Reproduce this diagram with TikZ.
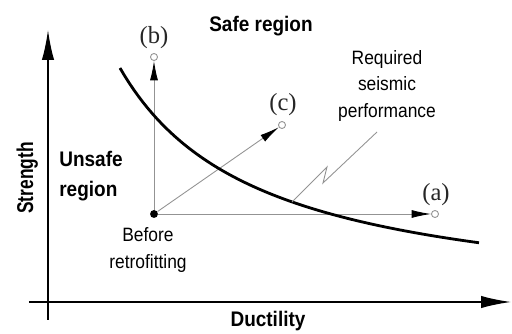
\documentclass[tikz,border=0pt]{standalone}
\usepackage{fontspec}
\setmainfont{Liberation Sans}
\newfontfamily\casefont{Liberation Serif}
\usetikzlibrary{arrows.meta}
\newcommand\condensed[1]{\scalebox{0.9}[1]{#1}}

\begin{document}
\begin{tikzpicture}[x=0.02cm,y=-0.02cm]
    \def\r{2pt}
    \tikzset{axis/.style={black,line width=0.9pt,-{Latex[length=17pt,width=7pt]}},
        move/.style={gray!85,line width=0.5pt,-{Latex[length=11pt,width=4.5pt,color=black]}},
        target/.style={circle,draw=gray!85,fill=white,line width=0.5pt,inner sep=0pt,minimum size=2*\r},
        case/.style={font=\casefont\fontsize{14}{16}\selectfont,inner sep=0pt,text=black!85},
        region/.style={font=\fontsize{12}{17.5}\selectfont\bfseries,inner sep=0pt,align=left},
        note/.style={font=\fontsize{11}{15}\selectfont,inner sep=0pt,align=center}}
    \useasboundingbox (0,0) rectangle (512,334);
    \coordinate (xs) at (29,302);
    \coordinate (xe) at (511,302);
    \coordinate (ys) at (48,320);
    \coordinate (ye) at (48,30);
    \draw[axis] (xs) -- (xe);
    \draw[axis] (ys) -- (ye);
    \node[circle,fill=black,inner sep=0pt,minimum size=4.5pt] (before) at (154,214) {};
    \node[target] (a) at (435,214) {};
    \node[target] (b) at (154,57) {};
    \node[target] (c) at (282,125) {};
    \draw[move] (before) -- (a);
    \draw[move] (before) -- (b);
    \draw[move] (before) -- (c);
    \node[case] (alabel) at (436,195) {(a)};
    \node[case] (blabel) at (154,38) {(b)};
    \node[case] (clabel) at (283,105) {(c)};
    \draw[line width=1.6pt] plot[domain=120:479,samples=80] (\x,{310.9-340.03/((\x+20)/100)});
    \coordinate (lead) at (292,202);
    \coordinate (zig1) at (327,167);
    \coordinate (zig2) at (323,183);
    \coordinate (leadend) at (377,132);
    \draw[gray!85,line width=0.5pt] (lead) -- (zig1) -- (zig2) -- (leadend);
    \node[note] (required) at (387,86) {\condensed{Required}\\\condensed{seismic}\\\condensed{performance}};
    \node[note] (retro) at (148,250) {\condensed{Before}\\\condensed{retrofitting}};
    \node[region,anchor=base] (safe) at (261,32) {\condensed{Safe region}};
    \node[region] (unsafe) at (91,176) {\condensed{Unsafe}\\\condensed{region}};
    \node[region,anchor=base] (ductility) at (268,327) {\condensed{Ductility}};
    \node[rotate=90,anchor=base,inner sep=0pt,font=\fontsize{13}{15}\selectfont\bfseries] (strength) at (33,178) {\scalebox{0.76}[1]{Strength}};
\end{tikzpicture}
\end{document}
